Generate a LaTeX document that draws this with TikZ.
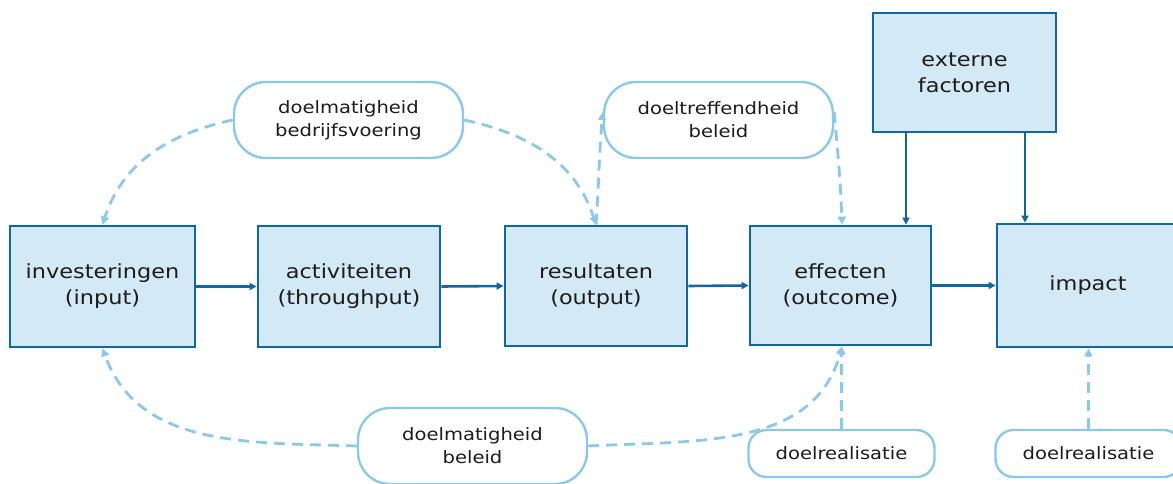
\documentclass[tikz,border=0pt]{standalone}
\usepackage{fontspec}
\setmainfont{DejaVu Sans}[FakeStretch=1.15]
\usetikzlibrary{arrows.meta}
\definecolor{boxfill}{HTML}{D3E9F6}
\definecolor{boxline}{HTML}{12679E}
\definecolor{lightline}{HTML}{8CC8E8}
\definecolor{txt}{HTML}{1C1C1C}
\begin{document}
\begin{tikzpicture}[x=1pt,y=-1pt,
  mainbox/.style={draw=boxline, fill=boxfill, line width=2.8pt, inner sep=0pt,
    minimum width=182pt, minimum height=120pt, align=center, text=txt,
    font=\fontsize{19.5}{26}\selectfont},
  lbl/.style={draw=lightline, fill=white, line width=2.4pt, inner sep=0pt,
    rounded corners=32pt, minimum width=229pt, minimum height=76pt, align=center,
    text=txt, font=\fontsize{17}{23}\selectfont},
  smalllbl/.style={lbl, rounded corners=18pt, minimum width=186pt, minimum height=47pt},
  solidarrow/.style={draw=boxline, line width=2.6pt, -{Triangle[length=7pt,width=7pt]}},
  dasharrow/.style={draw=lightline, line width=2.8pt, dash pattern=on 11pt off 7pt,
    -{Triangle[length=8pt,width=8pt]}}
]
\useasboundingbox (0,0) rectangle (1173,484);
\clip (0,0) rectangle (1173,484);

% main boxes
\node[mainbox, minimum width=185pt, minimum height=121pt] (inv) at (102.5,286.5) {investeringen\\(input)};
\node[mainbox, minimum height=121pt] (act) at (349,286.5) {activiteiten\\(throughput)};
\node[mainbox] (res) at (596,286) {resultaten\\(output)};
\node[mainbox, minimum width=181pt, minimum height=119pt] (eff) at (840.5,285.5) {effecten\\(outcome)};
\node[mainbox, minimum height=123pt] (imp) at (1088,285.5) {impact};
\node[mainbox, minimum width=183pt, minimum height=119pt] (ext) at (964.5,72.5) {externe\\factoren};

% labels
\node[lbl] (dbv) at (348.5,120) {doelmatigheid\\bedrijfsvoering};
\node[lbl] (dtb) at (718.5,120) {doeltreffendheid\\beleid};
\node[lbl] (dmb) at (472.5,446) {doelmatigheid\\beleid};
\node[smalllbl] (dr1) at (841.5,453.5) {doelrealisatie};
\node[smalllbl] (dr2) at (1088.5,453.5) {doelrealisatie};

% solid arrows
\draw[solidarrow] (inv.east) -- (act.west);
\draw[solidarrow] (act.east) -- (res.west);
\draw[solidarrow] (res.east) -- (eff.west);
\draw[solidarrow] (eff.east) -- (imp.west);
\draw[solidarrow] ([xshift=-58.5pt]ext.south) -- ([xshift=-58.5pt]ext.south |- eff.north);
\draw[solidarrow] ([xshift=60.5pt]ext.south) -- ([xshift=60.5pt]ext.south |- imp.north);

% dashed arrows
\draw[dasharrow] (dbv.west) to[out=192,in=72] (inv.north);
\draw[dasharrow] (dbv.east) to[out=-12,in=108] (res.north);
\draw[dasharrow] (res.north) to[out=86,in=-95] ([yshift=8pt]dtb.west);
\draw[dasharrow] ([yshift=8pt]dtb.east) to[out=-85,in=92] ([xshift=1.5pt]eff.north);
\draw[dasharrow] (dmb.west) to[out=178,in=-70] (inv.south);
\draw[dasharrow] (dmb.east) to[out=3,in=-105] ([xshift=1.5pt]eff.south);
\draw[dasharrow] (dr1.north) -- (dr1.north |- eff.south);
\draw[dasharrow] (dr2.north) -- (dr2.north |- imp.south);
\end{tikzpicture}
\end{document}
